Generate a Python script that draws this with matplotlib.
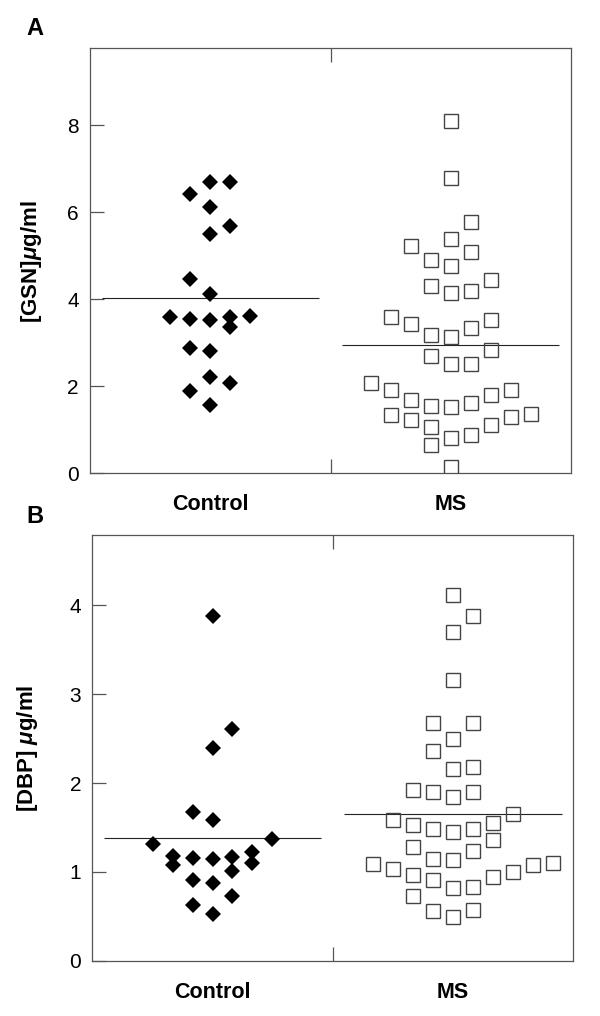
import numpy as np
import matplotlib
matplotlib.use('Agg')
import matplotlib.pyplot as plt

plt.rcParams['font.family'] = ['Liberation Sans', 'DejaVu Sans']
plt.rcParams['mathtext.fontset'] = 'custom'
plt.rcParams['mathtext.it'] = 'Liberation Sans:italic:bold'
plt.rcParams['mathtext.rm'] = 'Liberation Sans:bold'

groups = ['Control', 'MS']

# Panel A: gelsolin (ug/ml)
gsn_control = [6.70, 6.70, 6.42, 6.12, 5.67, 5.49, 4.46, 4.12, 3.58, 3.55,
               3.53, 3.58, 3.60, 3.37, 2.87, 2.81, 2.20, 2.06, 1.89, 1.57]
gsn_control_slot = [0, 1, -1, 0, 1, 0, -1, 0, -2, -1,
                    0, 1, 2, 1, -1, 0, 0, 1, -1, 0]
gsn_ms = [8.10, 6.78, 5.77, 5.39, 5.23, 4.91, 5.08, 4.76, 4.43, 4.29,
          4.15, 4.19, 3.59, 3.43, 3.17, 3.13, 3.33, 3.52, 2.84, 2.70,
          2.51, 2.51, 2.08, 1.91, 1.69, 1.55, 1.52, 1.60, 1.79, 1.92,
          1.33, 1.23, 1.07, 0.80, 0.88, 1.10, 1.29, 1.35, 0.64, 0.15]
gsn_ms_slot = [0, 0, 1, 0, -2, -1, 1, 0, 2, -1,
               0, 1, -3, -2, -1, 0, 1, 2, 2, -1,
               0, 1, -4, -3, -2, -1, 0, 1, 2, 3,
               -3, -2, -1, 0, 1, 2, 3, 4, -1, 0]

# Panel B: DBP (ug/ml)
dbp_control = [3.88, 2.61, 2.39, 1.67, 1.58, 1.31, 1.37, 1.18, 1.08, 1.16,
               1.15, 1.17, 1.22, 1.10, 1.01, 0.91, 0.87, 0.73, 0.63, 0.53]
dbp_control_slot = [0, 1, 0, -1, 0, -3, 3, -2, -2, -1,
                    0, 1, 2, 2, 1, -1, 0, 1, -1, 0]
dbp_ms = [4.12, 3.88, 3.70, 3.16, 2.68, 2.68, 2.50, 2.36, 2.16, 2.18,
          1.92, 1.90, 1.84, 1.90, 1.65, 1.58, 1.53, 1.48, 1.45, 1.48,
          1.55, 1.36, 1.28, 1.24, 1.15, 1.13, 1.09, 1.03, 0.96, 0.91,
          0.82, 0.83, 0.94, 1.00, 1.08, 1.10, 0.73, 0.56, 0.49, 0.57]
dbp_ms_slot = [0, 1, 0, 0, -1, 1, 0, -1, 0, 1,
               -2, -1, 0, 1, 3, -3, -2, -1, 0, 1,
               2, 2, -2, 1, -1, 0, -4, -3, -2, -1,
               0, 1, 2, 3, 4, 5, -2, -1, 0, 1]

gsn_ticks = [0, 2, 4, 6, 8]
dbp_ticks = [0, 1, 2, 3, 4]

SLOT = 0.083      # horizontal step between columns of the dot plot
GREY = '#555555'


def dot_panel(ax, control, control_slot, ms, ms_slot, ymax, yticks):
    xc = 1 + SLOT * np.array(control_slot)
    xm = 2 + SLOT * np.array(ms_slot)
    ax.plot(xc, control, linestyle='none', marker='D', markersize=7.9,
            color='black', markeredgewidth=0, zorder=3)
    ax.plot(xm, ms, linestyle='none', marker='s', markersize=9.4,
            markerfacecolor='none', markeredgecolor='#444444',
            markeredgewidth=1.0, zorder=3)
    # group means
    ax.hlines(np.mean(control), 1 - 0.452, 1 + 0.452, color='#222222', lw=0.8, zorder=2)
    ax.hlines(np.mean(ms), 2 - 0.452, 2 + 0.452, color='#222222', lw=0.8, zorder=2)

    ax.set_xlim(0.5, 2.5)
    ax.set_ylim(0, ymax)
    ax.set_yticks(yticks)
    ax.set_xticks([1, 2])
    ax.set_xticklabels(groups, fontsize=15.5, fontweight='bold')
    ax.set_xticks([1.5], minor=True)
    ax.tick_params(axis='x', which='major', length=0, pad=15)
    ax.tick_params(axis='x', which='minor', direction='in', length=10,
                   width=0.9, color=GREY, top=True, bottom=True)
    ax.tick_params(axis='y', direction='in', length=10, width=0.9,
                   color=GREY, labelsize=15, pad=8)
    for s in ax.spines.values():
        s.set_color(GREY)
        s.set_linewidth(0.9)


fig = plt.figure(figsize=(6, 10.16), dpi=100)

ax1 = fig.add_axes([0.150, 0.5344, 0.8017, 0.4186])
dot_panel(ax1, gsn_control, gsn_control_slot, gsn_ms, gsn_ms_slot, 9.78, gsn_ticks)

ax2 = fig.add_axes([0.1538, 0.0544, 0.8017, 0.4187])
dot_panel(ax2, dbp_control, dbp_control_slot, dbp_ms, dbp_ms_slot, 4.79, dbp_ticks)

fig.text(0.052, 0.742, r'[GSN]$\mu$g/ml', rotation=90, fontsize=16,
         fontweight='bold', ha='center', va='center')
fig.text(0.045, 0.264, r'[DBP] $\mu$g/ml', rotation=90, fontsize=16,
         fontweight='bold', ha='center', va='center')

fig.text(0.058, 0.9724, 'A', fontsize=17, fontweight='bold', ha='center', va='center')
fig.text(0.059, 0.4914, 'B', fontsize=17, fontweight='bold', ha='center', va='center')

plt.savefig('out.png', dpi=100)
